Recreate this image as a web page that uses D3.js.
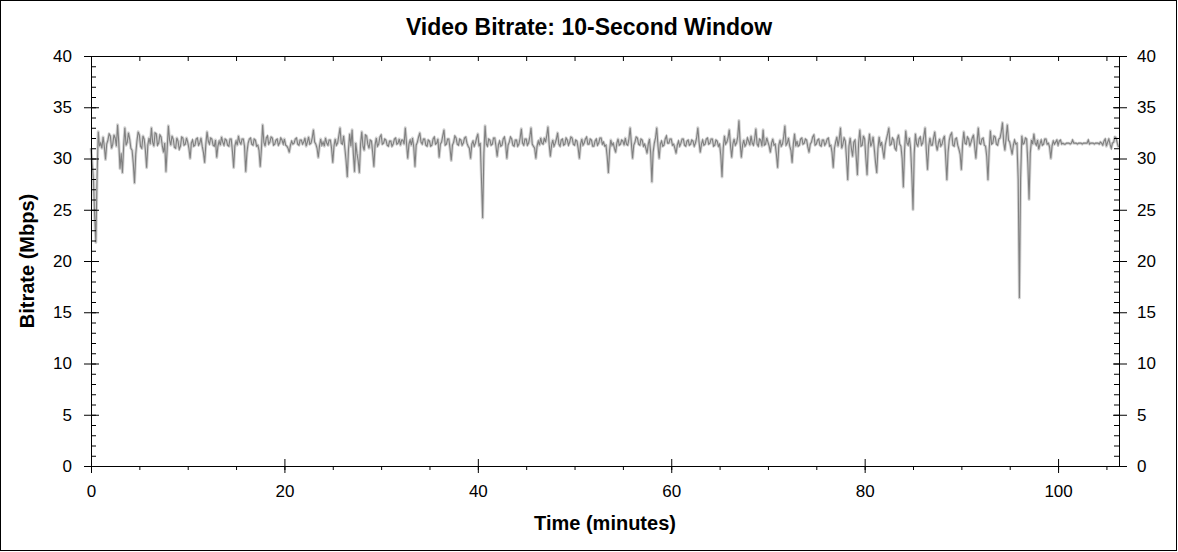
<!DOCTYPE html>
<html>
<head>
<meta charset="utf-8">
<script src="https://cdn.jsdelivr.net/npm/d3@7"></script>
<style>
  html, body { margin: 0; padding: 0; background: #fff; }
  svg { display: block; }
  text { font-family: "Liberation Sans", Arial, sans-serif; }
</style>
</head>
<body>
<svg id="chart" width="1178" height="552"></svg>
<script>
// ---- data ----
const title = "Video Bitrate: 10-Second Window";
const xLabel = "Time (minutes)";
const yLabel = "Bitrate (Mbps)";
const xTickLabels = [0, 20, 40, 60, 80, 100];
const xMinorTicks = [0,5,10,15,20,25,30,35,40,45,50,55,60,65,70,75,80,85,90,95,100,105];
const yTickLabels = [0, 5, 10, 15, 20, 25, 30, 35, 40];
const yMinorTicks = [0,1,2,3,4,5,6,7,8,9,10,11,12,13,14,15,16,17,18,19,20,21,22,23,24,25,26,27,28,29,30,31,32,33,34,35,36,37,38,39,40];
const sampleStep = 0.125; // minutes between samples
// bitrate (Mbps), one row per minute, 8 samples per minute
const bitrate = [
  31.0, 29.5, 28.0, 24.5, 21.8, 28.0, 32.6, 31.2,
  31.5, 31.0, 32.1, 31.2, 29.9, 31.4, 31.8, 32.4,
  32.2, 31.0, 31.4, 32.3, 32.0, 31.2, 33.3, 31.5,
  29.0, 30.5, 28.6, 31.2, 33.0, 31.3, 31.6, 32.5,
  31.9, 31.0, 30.8, 29.5, 27.6, 30.4, 31.7, 32.6,
  32.3, 31.2, 31.0, 32.2, 31.9, 30.8, 29.1, 31.3,
  32.0, 31.4, 33.0, 31.6, 31.2, 32.5, 32.4, 31.3,
  31.5, 32.3, 32.1, 31.2, 30.6, 31.5, 28.7, 30.9,
  33.2, 31.8, 31.3, 32.2, 31.9, 31.1, 31.0, 32.0,
  31.7, 30.9, 31.2, 32.1, 32.0, 31.3, 31.4, 32.0,
  31.6, 31.0, 30.0, 31.5, 31.8, 31.2, 31.3, 31.9,
  32.0, 31.3, 31.5, 32.0, 31.2, 30.6, 29.6, 31.4,
  32.6, 31.7, 31.4, 32.0, 31.9, 31.3, 31.2, 31.8,
  30.1, 31.2, 31.7, 31.3, 32.1, 31.6, 31.3, 31.9,
  31.8, 31.3, 31.2, 31.9, 31.9, 30.7, 29.1, 31.2,
  31.7, 31.3, 32.2, 31.6, 31.4, 31.9, 31.9, 31.2,
  28.7, 30.6, 31.5, 31.9, 32.0, 31.4, 31.3, 31.9,
  31.8, 31.2, 31.3, 30.8, 29.2, 31.0, 33.3, 31.6,
  31.2, 32.0, 32.2, 31.4, 31.6, 32.1, 32.0, 31.3,
  31.4, 31.8, 31.9, 31.3, 31.5, 32.0, 31.8, 31.4,
  31.9, 31.3, 31.2, 31.0, 30.6, 31.3, 31.7, 31.4,
  31.5, 31.9, 32.0, 31.4, 31.3, 31.8, 31.8, 31.4,
  31.6, 32.0, 31.2, 31.6, 32.1, 31.4, 31.5, 32.0,
  32.8, 31.6, 31.4, 31.0, 30.1, 31.2, 31.9, 31.3,
  31.6, 31.2, 32.0, 31.5, 31.3, 31.8, 31.8, 31.0,
  29.6, 31.2, 31.9, 31.3, 31.5, 32.2, 33.0, 31.5,
  31.4, 32.2, 31.0, 29.8, 28.2, 30.9, 32.4, 31.2,
  32.8, 30.5, 28.7, 31.5, 30.5, 29.8, 28.6, 31.4,
  32.6, 31.2, 30.8, 32.3, 32.2, 31.4, 31.0, 31.8,
  31.7, 30.6, 29.2, 31.3, 32.0, 31.2, 31.4, 32.1,
  32.3, 31.4, 31.5, 31.9, 31.8, 31.3, 31.2, 31.7,
  31.7, 31.2, 31.4, 31.9, 32.0, 31.4, 31.5, 31.9,
  31.3, 31.8, 31.8, 31.4, 33.0, 31.5, 30.0, 31.4,
  31.8, 31.3, 32.0, 31.1, 29.2, 31.3, 31.6, 32.1,
  32.5, 31.6, 31.4, 31.9, 31.9, 31.3, 31.2, 31.8,
  31.7, 31.2, 31.3, 31.9, 32.1, 31.4, 31.5, 31.9,
  30.1, 31.4, 31.6, 32.2, 32.8, 31.3, 31.4, 31.9,
  31.9, 31.0, 29.8, 31.3, 31.6, 32.2, 32.0, 31.4,
  31.3, 31.9, 31.8, 31.3, 31.5, 32.0, 32.1, 31.5,
  31.2, 31.0, 30.0, 31.4, 31.7, 31.2, 31.5, 32.0,
  32.4, 31.2, 31.5, 28.0, 24.2, 30.5, 33.2, 31.4,
  31.2, 31.9, 31.8, 31.3, 31.4, 32.0, 32.0, 31.2,
  30.2, 31.3, 31.7, 31.2, 31.3, 31.9, 32.1, 31.4,
  30.0, 31.3, 31.6, 32.1, 31.9, 31.3, 31.2, 31.8,
  31.8, 31.2, 31.4, 32.0, 32.9, 31.5, 31.3, 31.9,
  31.9, 31.3, 31.5, 32.1, 33.0, 31.4, 31.2, 31.0,
  30.0, 31.2, 31.7, 31.3, 32.0, 31.5, 31.4, 32.0,
  31.6, 32.2, 33.1, 31.4, 30.2, 31.3, 31.8, 31.2,
  31.5, 31.9, 32.5, 31.4, 31.2, 31.8, 31.9, 31.3,
  31.4, 32.0, 31.8, 31.3, 31.6, 32.1, 32.0, 31.4,
  31.3, 31.8, 31.7, 31.0, 30.0, 31.4, 31.9, 31.3,
  31.5, 31.9, 32.1, 31.4, 31.4, 31.9, 31.8, 31.2,
  31.2, 31.7, 31.9, 31.3, 31.5, 32.0, 32.0, 31.4,
  31.6, 31.2, 31.3, 30.2, 28.6, 30.8, 31.8, 31.3,
  31.5, 31.0, 30.6, 31.5, 31.9, 31.3, 31.4, 31.8,
  31.7, 31.3, 32.0, 31.4, 31.3, 31.9, 33.0, 31.5,
  30.0, 31.3, 31.6, 32.1, 32.0, 31.4, 31.3, 31.9,
  31.8, 31.2, 31.4, 31.0, 30.5, 31.4, 31.9, 30.5,
  27.7, 30.6, 31.5, 32.0, 33.0, 31.3, 30.0, 31.4,
  31.7, 31.2, 31.3, 31.9, 32.2, 31.5, 31.5, 31.9,
  31.9, 31.3, 31.4, 31.0, 30.5, 31.3, 31.7, 31.2,
  31.5, 31.9, 31.9, 31.3, 31.2, 31.7, 31.8, 31.3,
  31.4, 31.8, 31.7, 31.2, 31.5, 32.0, 33.0, 31.6,
  30.6, 31.4, 31.8, 31.3, 31.4, 31.9, 32.0, 31.4,
  31.5, 31.9, 31.9, 31.2, 31.3, 31.8, 31.7, 31.2,
  31.4, 30.3, 28.2, 31.0, 32.2, 31.4, 31.6, 32.0,
  32.8, 31.3, 30.1, 31.4, 31.9, 31.3, 31.5, 32.1,
  33.7, 31.5, 30.1, 31.3, 31.8, 31.2, 31.4, 32.0,
  31.7, 31.3, 32.2, 31.5, 31.3, 31.9, 32.9, 31.4,
  31.2, 31.9, 31.8, 31.2, 32.8, 31.3, 31.4, 32.0,
  31.6, 31.2, 30.6, 31.5, 31.9, 31.3, 31.4, 30.4,
  29.1, 31.3, 31.8, 31.2, 31.4, 32.1, 33.2, 31.3,
  31.5, 32.0, 31.2, 30.8, 29.6, 31.4, 32.4, 31.2,
  31.7, 31.2, 31.3, 31.9, 32.0, 31.4, 31.5, 31.9,
  31.8, 31.1, 30.6, 31.4, 31.6, 32.1, 32.3, 31.3,
  31.4, 31.8, 31.9, 31.3, 31.2, 31.8, 31.8, 31.3,
  31.5, 31.9, 32.0, 31.2, 31.3, 30.6, 29.1, 31.0,
  31.6, 32.1, 31.2, 31.9, 33.0, 31.0, 31.4, 32.0,
  31.7, 30.0, 27.9, 31.2, 32.0, 31.0, 30.2, 31.6,
  31.8, 30.2, 28.4, 31.5, 32.8, 31.2, 31.3, 32.2,
  31.9, 30.0, 28.4, 31.3, 32.4, 31.2, 31.5, 32.1,
  30.9, 29.6, 28.6, 31.0, 32.1, 31.2, 31.6, 30.8,
  30.0, 31.3, 31.9, 32.4, 33.0, 31.3, 31.4, 32.0,
  31.8, 31.0, 30.8, 31.9, 32.3, 31.4, 31.2, 30.0,
  27.2, 30.8, 32.7, 31.5, 31.3, 32.0, 31.0, 28.5,
  25.0, 30.5, 32.4, 31.4, 31.2, 31.9, 32.1, 31.3,
  31.5, 32.2, 33.0, 30.8, 28.9, 31.2, 32.0, 31.3,
  31.3, 32.0, 32.6, 31.4, 30.8, 31.5, 31.9, 31.2,
  31.4, 31.9, 32.2, 30.2, 27.9, 30.6, 31.8, 32.3,
  32.5, 31.3, 31.2, 31.9, 32.0, 31.3, 30.9, 30.4,
  28.9, 31.4, 32.6, 31.5, 31.4, 32.1, 31.9, 31.2,
  31.6, 32.0, 32.3, 31.2, 30.0, 31.6, 33.0, 31.5,
  31.4, 31.9, 32.0, 31.3, 31.2, 30.2, 27.9, 30.8,
  32.7, 31.4, 31.5, 32.2, 32.1, 31.4, 31.3, 31.9,
  32.0, 32.6, 33.5, 31.6, 30.8, 32.0, 33.3, 31.8,
  31.6, 31.0, 30.4, 31.3, 31.8, 31.4, 31.5, 28.0,
  16.4, 28.0, 32.2, 31.4, 31.5, 32.0, 31.9, 29.5,
  26.0, 30.5, 31.8, 31.4, 32.4, 31.5, 31.3, 31.8,
  30.9, 31.4, 31.8, 31.3, 31.4, 31.9, 31.9, 31.4,
  31.5, 31.1, 30.0, 31.2, 31.7, 31.4, 31.6, 31.8,
  31.3, 31.7, 31.8, 31.4, 31.5, 31.4, 31.4, 31.5,
  31.5, 31.5, 31.4, 31.5, 31.8, 31.5, 31.5, 31.5,
  31.4, 31.5, 31.5, 31.5, 31.4, 31.5, 31.5, 31.5,
  31.5, 31.8, 31.4, 31.5, 31.5, 31.5, 31.4, 31.5,
  31.5, 31.5, 31.4, 31.6, 31.5, 31.3, 31.7, 31.9,
  31.2, 31.6, 31.9, 31.4, 31.0, 31.5, 31.6, 32.1,
  32.0, 31.5, 31.1
];
const xMax = 106.3;
const yMax = 40;

// ---- drawing ----
const svg = d3.select("#chart");
const W = 1178, H = 552;
const plot = { left: 91, right: 1119, top: 56, bottom: 466 };

svg.append("rect").attr("x", 0.5).attr("y", 0.5).attr("width", W - 2).attr("height", H - 2)
  .attr("fill", "#fff").attr("stroke", "#000").attr("stroke-width", 1);

const x = d3.scaleLinear().domain([0, xMax]).range([plot.left, plot.right]);
const y = d3.scaleLinear().domain([0, yMax]).range([plot.bottom, plot.top]);

const points = bitrate.map((v, i) => ({ t: i * sampleStep, v }));
const line = d3.line().x(d => x(d.t)).y(d => y(d.v));

svg.append("path").datum(points).attr("d", line)
  .attr("fill", "none").attr("stroke", "#d2d2d2").attr("stroke-width", 3)
  .attr("stroke-linejoin", "round");
svg.append("path").datum(points).attr("d", line)
  .attr("fill", "none").attr("stroke", "#808080").attr("stroke-width", 1.1)
  .attr("stroke-linejoin", "miter");

const fontTick = "17px";
const ff = "'Liberation Sans', Arial, sans-serif";

// Bottom axis: major ticks + labels
const gB = svg.append("g").attr("transform", `translate(0,${plot.bottom})`)
  .call(d3.axisBottom(x).tickValues(xTickLabels).tickSize(7).tickPadding(12).tickSizeOuter(0));
gB.selectAll(".tick line").attr("y1", -7).attr("y2", 7).attr("stroke", "#000");
gB.select(".domain").attr("stroke", "#000");
gB.selectAll("text").attr("font-size", fontTick).attr("fill", "#000").attr("font-family", ff);
// Bottom minor ticks
svg.append("g").attr("transform", `translate(0,${plot.bottom})`)
  .call(d3.axisBottom(x).tickValues(xMinorTicks).tickSize(4).tickFormat("").tickSizeOuter(0))
  .call(g => g.select(".domain").remove());
// Top axis: inward ticks
const gT = svg.append("g").attr("transform", `translate(0,${plot.top})`)
  .call(d3.axisBottom(x).tickValues(xMinorTicks.filter(d => d > 0)).tickSize(5).tickFormat("").tickSizeOuter(0));
gT.select(".domain").attr("stroke", "#000");

// Left axis: major crossing ticks + labels
const gL = svg.append("g").attr("transform", `translate(${plot.left},0)`)
  .call(d3.axisLeft(y).tickValues(yTickLabels).tickSize(7).tickPadding(12).tickSizeOuter(0));
gL.selectAll(".tick line").attr("x1", -7).attr("x2", 8).attr("stroke", "#000");
gL.select(".domain").attr("stroke", "#000");
gL.selectAll("text").attr("font-size", fontTick).attr("fill", "#000").attr("font-family", ff);
svg.append("g").attr("transform", `translate(${plot.left},0)`)
  .call(d3.axisRight(y).tickValues(yMinorTicks).tickSize(5).tickFormat("").tickSizeOuter(0))
  .call(g => g.select(".domain").remove());

// Right axis
const gR = svg.append("g").attr("transform", `translate(${plot.right},0)`)
  .call(d3.axisRight(y).tickValues(yTickLabels).tickSize(8).tickPadding(10).tickSizeOuter(0));
gR.selectAll(".tick line").attr("x1", -6).attr("x2", 8).attr("stroke", "#000");
gR.select(".domain").attr("stroke", "#000");
gR.selectAll("text").attr("font-size", fontTick).attr("fill", "#000").attr("font-family", ff);
svg.append("g").attr("transform", `translate(${plot.right},0)`)
  .call(d3.axisLeft(y).tickValues(yMinorTicks).tickSize(5).tickFormat("").tickSizeOuter(0))
  .call(g => g.select(".domain").remove());

// Titles
svg.append("text").attr("x", 589).attr("y", 35).attr("text-anchor", "middle")
  .attr("font-size", "23px").attr("font-weight", "bold").text(title);
svg.append("text").attr("x", (plot.left + plot.right) / 2).attr("y", 530).attr("text-anchor", "middle")
  .attr("font-size", "20px").attr("font-weight", "bold").text(xLabel);
svg.append("text").attr("transform", `translate(34,${(plot.top + plot.bottom) / 2}) rotate(-90)`)
  .attr("text-anchor", "middle").attr("font-size", "20px").attr("font-weight", "bold").text(yLabel);
</script>
</body>
</html>
